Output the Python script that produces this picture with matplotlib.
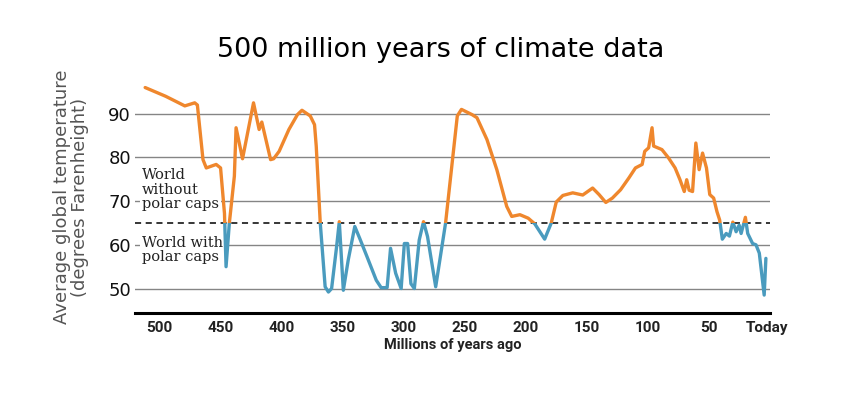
"""500 million years of climate data - temperature proxy curve."""

import matplotlib

matplotlib.use("Agg")
import matplotlib.pyplot as plt
import matplotlib.transforms as mtransforms
from matplotlib.patches import Rectangle

# millions of years ago
ages = [511.8, 495.0, 479.3, 471.2, 469.0, 464.4, 461.7, 453.6, 450.0, 446.8,
        445.5, 442.8, 438.7, 437.3, 432.0, 423.0, 418.4, 416.2, 409.0, 406.5,
        402.0, 394.0, 387.0, 383.3, 376.5, 373.0, 371.6, 368.3, 364.3, 361.6,
        359.0, 354.9, 352.7, 349.4, 345.4, 340.0, 336.0, 330.0, 322.4, 318.4,
        313.5, 310.7, 306.5, 302.0, 299.4, 296.7, 294.0, 291.2, 287.2, 283.7,
        280.4, 273.7, 265.6, 256.0, 252.6, 243.9, 239.9, 231.7, 223.6, 215.5,
        211.4, 204.7, 197.9, 192.5, 184.4, 179.0, 174.9, 169.5, 161.4, 153.2,
        145.1, 139.8, 134.3, 128.9, 122.2, 115.4, 110.0, 104.5, 102.4, 99.2,
        96.4, 95.1, 88.3, 82.9, 77.5, 73.5, 70.0, 68.0, 66.0, 63.2,
        60.5, 57.8, 55.0, 51.8, 49.1, 45.9, 43.2, 41.0, 38.8, 35.6,
        33.0, 30.2, 27.5, 25.0, 23.4, 19.9, 18.0, 14.0, 11.2, 8.5,
        4.5, 3.1]
# average global temperature, degrees F
temps = [96.0, 94.0, 91.8, 92.5, 92.0, 79.5, 77.6, 78.4, 77.6, 67.2,
         55.0, 65.0, 75.7, 86.8, 79.7, 92.5, 86.4, 88.1, 79.5, 79.7,
         81.4, 86.4, 89.8, 90.8, 89.5, 87.5, 82.6, 65.0, 50.4, 49.2,
         50.0, 59.6, 65.3, 49.6, 56.5, 64.2, 61.5, 57.3, 51.9, 50.2,
         50.2, 59.2, 53.5, 50.0, 60.3, 60.3, 51.1, 50.0, 61.1, 65.3,
         61.9, 50.4, 65.0, 89.5, 91.0, 89.8, 89.1, 84.1, 77.2, 68.8,
         66.5, 66.9, 66.1, 64.8, 61.3, 65.0, 69.8, 71.3, 71.9, 71.4,
         73.0, 71.5, 69.7, 70.7, 72.6, 75.3, 77.6, 78.4, 81.4, 82.2,
         86.8, 82.6, 81.8, 79.9, 77.6, 74.9, 72.2, 74.9, 72.5, 72.2,
         83.3, 77.2, 81.0, 77.6, 71.5, 70.7, 67.6, 65.7, 61.3, 62.6,
         62.0, 65.2, 63.0, 64.5, 62.6, 66.3, 62.6, 60.3, 60.0, 58.1,
         48.5, 56.9]

polar_cap_threshold = 65
y_ticks = [50, 60, 70, 80, 90]
x_ticks = [500, 450, 400, 350, 300, 250, 200, 150, 100, 50, 0]
x_labels = ["500", "450", "400", "350", "300", "250", "200", "150", "100", "50", "Today"]

ORANGE = "#EF872D"
BLUE = "#4A9BBE"
NARROW = ["Roboto", "DejaVu Sans"]

fig = plt.figure(figsize=(8.5, 3.97), dpi=100)
ax = fig.add_axes([0.159, 0.2116, 0.7465, 0.5844])
ax.set_xlim(520, 0)
ax.set_ylim(44.4, 97.5)

for v in y_ticks:
    ax.axhline(v, color="#858585", linewidth=1.0, zorder=1)
ax.axhline(polar_cap_threshold, color="black", linewidth=1.1,
           linestyle=(0, (4, 3)), zorder=2)

# one curve, orange above the threshold and blue below it
warm, = ax.plot(ages, temps, color=ORANGE, linewidth=2.4, zorder=4,
                solid_joinstyle="round", solid_capstyle="round")
cold, = ax.plot(ages, temps, color=BLUE, linewidth=2.4, zorder=4,
                solid_joinstyle="round", solid_capstyle="round")
warm.set_clip_path(Rectangle((-50, polar_cap_threshold), 700, 100, transform=ax.transData))
cold.set_clip_path(Rectangle((-50, 0), 700, polar_cap_threshold, transform=ax.transData))

box = dict(facecolor="white", edgecolor="none", pad=1.5)
ax.text(514.2, 72.6, "World\nwithout\npolar caps", family="DejaVu Serif",
        fontsize=10.5, color="#222222", va="center", ha="left",
        linespacing=1.05, bbox=box, zorder=3)
ax.text(514.2, 58.8, "World with\npolar caps", family="DejaVu Serif",
        fontsize=10.5, color="#222222", va="center", ha="left",
        linespacing=1.05, bbox=box, zorder=3)

for s in ("top", "right", "left"):
    ax.spines[s].set_visible(False)
ax.spines["bottom"].set_linewidth(2.2)
ax.spines["bottom"].set_color("black")

ax.set_yticks(y_ticks)
ax.set_yticklabels([str(v) for v in y_ticks], fontsize=13, color="#111111")
ax.tick_params(axis="y", length=0, pad=3)
ax.set_xticks(x_ticks)
ax.set_xticklabels(x_labels)
ax.tick_params(axis="x", length=0, pad=6)
for lab in ax.get_xticklabels():
    lab.set_family(NARROW)
    lab.set_fontweight("bold")
    lab.set_fontsize(11)
    lab.set_color("#222222")
today = ax.get_xticklabels()[-1]
today.set_transform(today.get_transform() +
                    mtransforms.ScaledTranslation(-3 / 100, 0, fig.dpi_scale_trans))

ax.set_xlabel("Millions of years ago", family=NARROW, fontweight="bold",
              fontsize=10.5, color="#222222", labelpad=2)
ax.set_ylabel("Average global temperature\n(degrees Farenheight)", fontsize=13,
              color="#555555", linespacing=1.0, labelpad=14)

fig.text(0.518, 0.875, "500 million years of climate data", fontsize=19.5,
         ha="center", va="center", color="black")

fig.savefig("out.png", dpi=100)
